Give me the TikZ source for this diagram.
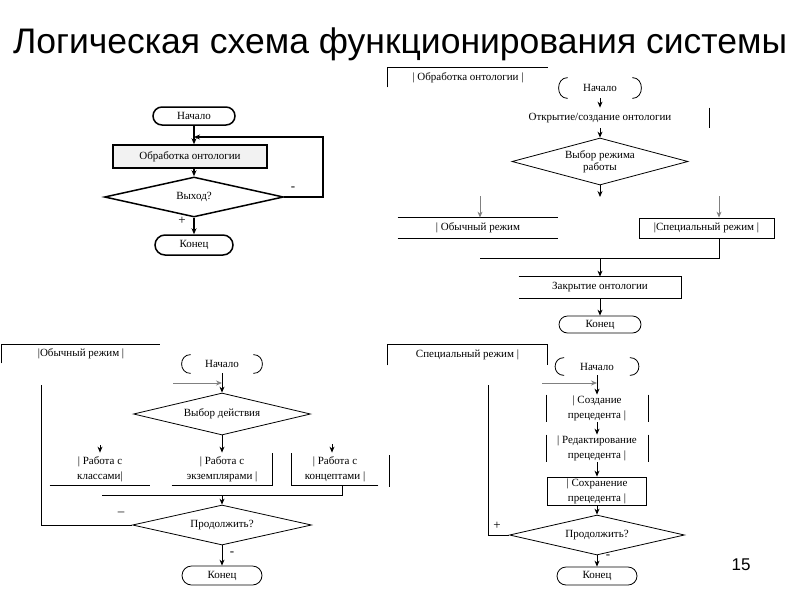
\documentclass[tikz,border=0pt]{standalone}
\usepackage{fontspec}
\setmainfont{Liberation Serif}
\newfontfamily\titlefont{Liberation Sans}
\usetikzlibrary{shapes.geometric,shapes.misc,arrows.meta}
\newcommand{\openterm}[1]{%
  \draw ([xshift=9pt]#1.north west) .. controls ([xshift=-3pt]#1.north west) and ([xshift=-3pt]#1.south west) .. ([xshift=9pt]#1.south west);
  \draw ([xshift=-9pt]#1.north east) .. controls ([xshift=3pt]#1.north east) and ([xshift=3pt]#1.south east) .. ([xshift=-9pt]#1.south east);}
\begin{document}
\begin{tikzpicture}[x=1pt,y=-1pt,
  font=\fontsize{11}{12}\selectfont,
  arr/.style={-{Stealth[length=6pt,width=5pt]}},
  term/.style={rounded rectangle, draw, inner sep=0pt},
  plain/.style={rectangle, inner sep=0pt, align=center},
  box/.style={rectangle, draw, inner sep=0pt, align=center},
  dia/.style={diamond, draw, inner sep=0pt, aspect=4, align=center},
  two/.style={font=\fontsize{11}{15}\selectfont},
  heavy/.style={line width=1.5pt},
  light/.style={line width=0.8pt},
  lbl/.style={inner sep=0pt, font=\fontsize{13}{13}\selectfont}
]
\useasboundingbox (0,0) rectangle (800,600);
\node[font=\titlefont\fontsize{35.5}{36}\selectfont, inner sep=0pt] (title) at (400,44) {Логическая схема функционирования системы};
\node[font=\titlefont\fontsize{17}{17}\selectfont, inner sep=0pt] (page) at (741,565) {15};

% ---------- top left ----------
\begin{scope}[heavy]
\node[term, minimum width=82pt, minimum height=18pt] (tlS) at (194,116) {Начало};
\node[box, fill=gray!10, minimum width=154pt, minimum height=23pt] (tlP) at (190,156.5) {Обработка онтологии};
\node[dia, minimum width=179pt, minimum height=40pt] (tlD) at (194,197) {Выход?};
\node[term, minimum width=78pt, minimum height=20pt] (tlE) at (194,245) {Конец};
\coordinate (tlL) at (323,137);
\draw[arr] (tlS.south) -- (tlS.south |- tlP.north);
\draw[arr] (tlS.south |- tlP.south) -- (tlD.north);
\draw[arr] (tlD.east) -| (tlL) -- (tlS.south |- tlL);
\draw[arr] (tlD.south) -- (tlE.north);
\end{scope}
\node[lbl] (tlM) at (293,189) {-};
\node[lbl] (tlPl) at (182,221) {+};

% ---------- top right ----------
\begin{scope}[light]
\node[plain, minimum width=160pt, minimum height=19pt] (trH) at (468,77.5) {| Обработка онтологии |};
\draw (trH.south west) -- (trH.north west) -- (trH.north east);
\node[plain, minimum width=82pt, minimum height=20pt] (trS) at (600,88) {Начало};
\openterm{trS}
\node[plain, minimum width=218pt, minimum height=20pt] (trO) at (600,118) {Открытие/создание онтологии};
\draw (trO.north east) -- (trO.south east);
\node[dia, minimum width=176pt, minimum height=47pt] (trD) at (600,161.5) {Выбор режима\\работы};
\coordinate (trC) at (600,197);
\node[plain, minimum width=160pt, minimum height=20pt] (trM1) at (478,228) {| Обычный режим};
\draw (trM1.north west) -- (trM1.north east) (trM1.south west) -- (trM1.south east);
\node[box, minimum width=135pt, minimum height=20pt] (trM2) at (706.5,228) {|Специальный режим |};
\coordinate (trA1) at (480,196);
\coordinate (trA2) at (719,196);
\coordinate (trJ1) at (480,258);
\coordinate (trJ2) at (719,258);
\node[plain, minimum width=162pt, minimum height=21pt] (trZ) at (600,287.5) {Закрытие онтологии};
\draw (trZ.north west) -- (trZ.north east) -- (trZ.south east) -- (trZ.south west);
\node[term, minimum width=82pt, minimum height=17pt] (trE) at (600,324.5) {Конец};
\draw[arr] (trS.south) -- (trO.north);
\draw[arr] (trO.south) -- (trD.north);
\draw[arr] (trD.south) -- (trC);
\draw[arr, gray] (trA1) -- (trA1 |- trM1.north);
\draw[arr, gray] (trA2) -- (trA2 |- trM2.north);
\draw (trJ2 |- trM2.south) -- (trJ2) -- (trJ1);
\draw[arr] (trZ.north |- trJ1) -- (trZ.north);
\draw[arr] (trZ.south) -- (trE.north);
\end{scope}

% ---------- bottom left ----------
\begin{scope}[light]
\node[plain, minimum width=158pt, minimum height=18pt] (blH) at (81,354) {|Обычный режим |};
\draw (blH.south west) -- (blH.north west) -- (blH.north east);
\node[plain, minimum width=80pt, minimum height=18pt] (blS) at (222,364) {Начало};
\openterm{blS}
\node[dia, minimum width=177pt, minimum height=42pt] (blD1) at (222,414) {Выбор действия};
\node[plain, two, minimum width=100pt, minimum height=32pt] (blB1) at (100,469) {| Работа с\\классами|};
\draw (blB1.south west) -- (blB1.south east);
\node[plain, two, minimum width=100pt, minimum height=32pt] (blB2) at (222,469) {| Работа с\\экземплярами |};
\draw (blB2.south west) -- (blB2.south east) -- (blB2.north east);
\node[plain, two, minimum width=86pt, minimum height=32pt] (blB3) at (335,469) {| Работа с\\концептами |};
\draw (blB3.south east) -- (blB3.south west) -- (blB3.north west);
\node[dia, minimum width=179pt, minimum height=40pt] (blD2) at (222,525) {Продолжить?};
\node[term, minimum width=80pt, minimum height=19pt] (blE) at (222,575.5) {Конец};
\coordinate (blL) at (41,385);
\coordinate (blG) at (173,383);
\coordinate (blA1) at (100,445);
\coordinate (blA3) at (332,444);
\coordinate (blJ1) at (102,495);
\coordinate (blJ2) at (342,495);
\draw[arr] (blS.south) -- (blD1.north);
\draw (blD2.west) -| (blL);
\draw[arr, gray] (blG) -- (blG -| blS.south);
\draw[arr] (blD1.south) -- (blB2.north);
\draw[arr] (blA1) -- (blA1 |- blB1.north);
\draw[arr] (blA3) -- (blA3 |- blB3.north);
\draw (blJ2 |- blB3.south) -- (blJ2) -- (blJ1);
\draw[arr] (blD2.north |- blJ1) -- (blD2.north);
\draw[arr] (blD2.south) -- (blE.north);
\end{scope}
\node[lbl] (blM1) at (121,514) {--};
\node[lbl] (blM2) at (232,554) {-};

% ---------- bottom right ----------
\begin{scope}[light]
\node[plain, minimum width=159pt, minimum height=20pt] (brH) at (467.5,355) {Специальный режим |};
\draw (brH.south west) -- (brH.north west) -- (brH.north east) -- (brH.south east);
\node[plain, minimum width=83pt, minimum height=17pt] (brS) at (597,366.5) {Начало};
\openterm{brS}
\node[plain, two, minimum width=101pt, minimum height=27pt] (brB1) at (597,408.5) {| Создание\\прецедента |};
\draw (brB1.north west) -- (brB1.south west) (brB1.north east) -- (brB1.south east);
\node[plain, two, minimum width=101pt, minimum height=27pt] (brB2) at (597,448.5) {| Редактирование\\прецедента |};
\draw (brB2.north west) -- (brB2.south west) (brB2.north east) -- (brB2.south east);
\node[box, two, minimum width=99pt, minimum height=28pt] (brB3) at (597,491) {| Сохранение\\прецедента |};
\node[dia, minimum width=175pt, minimum height=40pt] (brD) at (597,535) {Продолжить?};
\node[term, minimum width=80pt, minimum height=18pt] (brE) at (597,576) {Конец};
\coordinate (brL) at (488,385);
\coordinate (brG) at (542,383);
\coordinate (brV1) at (389,455);
\coordinate (brV2) at (389,487);
\draw (brV1) -- (brV2);
\draw[arr] (brS.south) -- (brB1.north);
\draw[arr, gray] (brG) -- (brG -| brS.south);
\draw[arr] (brB1.south) -- (brB2.north);
\draw[arr] (brB2.south) -- (brB3.north);
\draw[arr] (brB3.south) -- (brD.north);
\draw[arr] (brD.south) -- (brE.north);
\draw (brD.west) -| (brL);
\end{scope}
\node[lbl] (brP) at (497,526) {+};
\node[lbl] (brM) at (608,557) {-};
\end{tikzpicture}
\end{document}
